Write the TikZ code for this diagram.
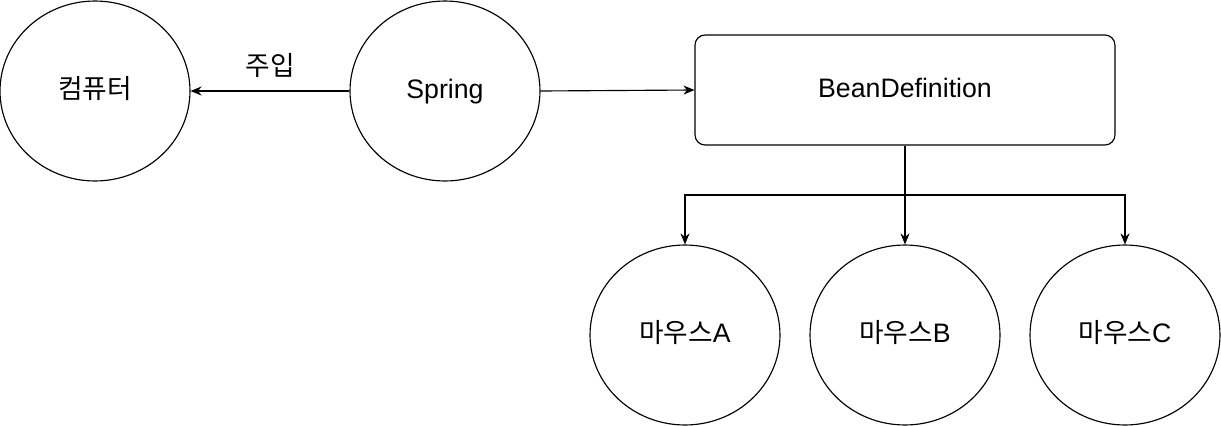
\documentclass[tikz,border=0pt]{standalone}
\usepackage{fontspec}
\setmainfont{Liberation Sans}
\newfontfamily\kr{Noto Sans CJK KR}
\usetikzlibrary{shapes.geometric,arrows.meta}
\begin{document}
\begin{tikzpicture}[x=0.02cm,y=-0.02cm,
  every node/.style={font=\fontsize{15.2}{18}\selectfont},
  txt/.style={text height=1.1em,text depth=0.2em},
  circ/.style={draw,ellipse,txt,line width=0.65pt,minimum width=3.8cm,minimum height=3.6cm,inner sep=0pt},
  boxnode/.style={draw,txt,rounded corners=0.2cm,line width=0.65pt,minimum width=8.4cm,minimum height=2.2cm,inner sep=0pt},
  conn/.style={line width=0.65pt,-{Stealth[length=0.22cm,width=0.18cm,inset=0.07cm]}},
  plain/.style={line width=0.65pt}]
\useasboundingbox (0,0) rectangle (1221,426);
\node[circ] (comp) at (95,91) {\kr 컴퓨터};
\node[circ] (spring) at (445,91) {Spring};
\node[boxnode] (bean) at (905,90) {BeanDefinition};
\node[circ] (ma) at (685,335) {{\kr 마우스}A};
\node[circ] (mb) at (905,335) {{\kr 마우스}B};
\node[circ] (mc) at (1125,335) {{\kr 마우스}C};
\coordinate (j) at (905,195);
\draw[conn] (spring.west) -- node[above=4pt] {\kr 주입} (comp.east);
\draw[conn] (spring.east) -- (bean.west);
\draw[plain] (bean.south) -- (j);
\draw[conn] (j) -| (ma.north);
\draw[conn] (j) -- (mb.north);
\draw[conn] (j) -| (mc.north);
\end{tikzpicture}
\end{document}
